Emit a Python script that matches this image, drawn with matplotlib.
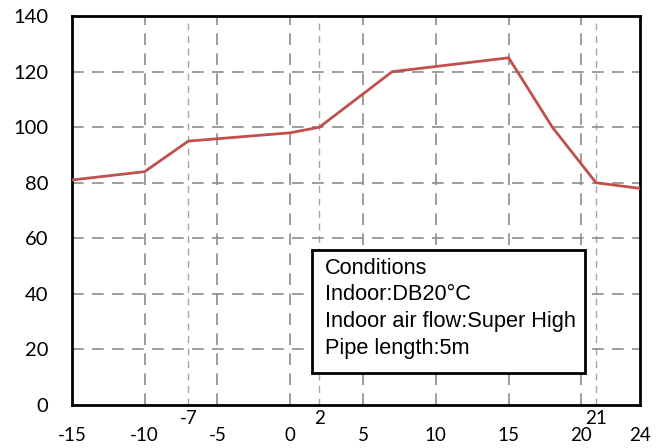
import matplotlib
matplotlib.use("Agg")
import matplotlib.pyplot as plt
from matplotlib.patches import Rectangle

# outdoor temperature vs capacity (%)
temps = [-15, -10, -7, 0, 2, 7, 15, 18, 21, 24]
capacity = [81, 84, 95, 98, 100, 120, 125, 100, 80, 78]

major_x = [-15, -10, -5, 0, 5, 10, 15, 20, 24]
minor_x = [-7, 2, 21]
y_ticks = [0, 20, 40, 60, 80, 100, 120, 140]

conditions = ["Conditions", "Indoor:DB20\u00b0C",
              "Indoor air flow:Super High", "Pipe length:5m"]

plt.rcParams['font.family'] = ['Lato', 'DejaVu Sans']

fig = plt.figure(figsize=(6.65, 4.48), dpi=100)
ax = fig.add_axes([0.108, 0.096, 0.854, 0.868])

# grid lines
for x in major_x[1:-1]:
    ax.axvline(x, color='#8c8c8c', lw=1.2, ls=(0, (7, 5)), zorder=1)
for x in minor_x:
    ax.axvline(x, color='#a6a6a6', lw=1.0, ls=(0, (5, 4)), zorder=1)
for y in y_ticks[1:-1]:
    ax.axhline(y, color='#8c8c8c', lw=1.2, ls=(0, (7, 5)), zorder=1)

ax.plot(temps, capacity, color='#c0504d', lw=2, zorder=3)

ax.set_xlim(-15, 24)
ax.set_ylim(0, 140)
ax.set_xticks(major_x)
ax.set_xticks(minor_x, minor=True)
ax.set_xticklabels([str(v) for v in major_x], fontsize=13.5)
ax.set_xticklabels([str(v) for v in minor_x], minor=True, fontsize=13.5)
ax.set_yticks(y_ticks)
ax.set_yticklabels([str(v) for v in y_ticks], fontsize=14.5)
ax.tick_params(axis='x', which='major', length=0, pad=15.5)
ax.tick_params(axis='x', which='minor', length=0, pad=3.5)
ax.tick_params(axis='y', length=0, pad=17)

for s in ax.spines.values():
    s.set_linewidth(2)
    s.set_color('black')

# conditions box
ax.add_patch(Rectangle((0.4225, 0.082), 0.4805, 0.316, transform=ax.transAxes,
                       fc='white', ec='black', lw=2, zorder=5))
for i, line in enumerate(conditions):
    ax.text(0.445, 0.352 - i * 0.0685, line, transform=ax.transAxes,
            family=['Liberation Sans', 'DejaVu Sans'], fontsize=15.7,
            va='center', ha='left', zorder=6)

fig.savefig("out.png", dpi=100)
